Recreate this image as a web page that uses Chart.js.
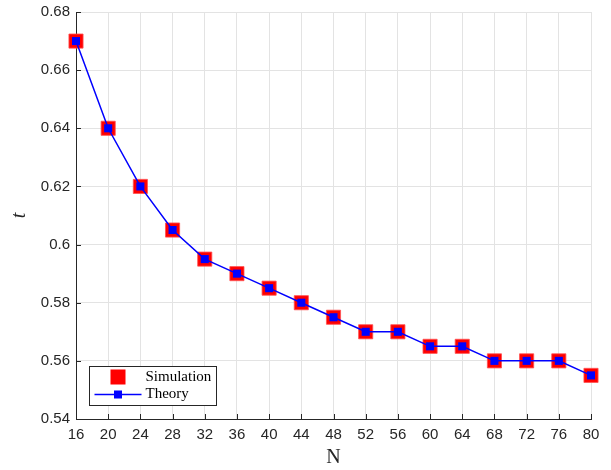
<!doctype html>
<html lang="en">
<head>
    <meta charset="utf-8">
    <title>t vs N</title>
    <style>
        html, body { margin: 0; padding: 0; background: #fff; }
        #wrap { width: 611px; height: 470px; }
    </style>
</head>
<body>
    <div id="wrap">
        <canvas id="myChart" width="611" height="470"></canvas>
    </div>

    <script src="https://cdn.jsdelivr.net/npm/chart.js@4.4.0/dist/chart.umd.min.js"></script>
    <script>
        // data
        let nValues = [16, 20, 24, 28, 32, 36, 40, 44, 48, 52, 56, 60, 64, 68, 72, 76, 80];
        let simulation = [0.67, 0.64, 0.62, 0.605, 0.595, 0.59, 0.585, 0.58, 0.575, 0.57, 0.57, 0.565, 0.565, 0.56, 0.56, 0.56, 0.555];
        let theory = [0.67, 0.64, 0.62, 0.605, 0.595, 0.59, 0.585, 0.58, 0.575, 0.57, 0.57, 0.565, 0.565, 0.56, 0.56, 0.56, 0.555];
        let xTicks = [16, 20, 24, 28, 32, 36, 40, 44, 48, 52, 56, 60, 64, 68, 72, 76, 80];
        let yTicks = [0.54, 0.56, 0.58, 0.6, 0.62, 0.64, 0.66, 0.68];
        let seriesNames = ['Simulation', 'Theory'];

        const axisColor = '#262626';
        const gridColor = '#e3e3e3';

        // small inward ticks on the left and bottom axes (matlab style)
        const innerTicks = {
            id: 'innerTicks',
            afterDatasetsDraw(chart) {
                let ctx = chart.ctx;
                let area = chart.chartArea;
                let xs = chart.scales.x, ys = chart.scales.y;
                ctx.save();
                ctx.strokeStyle = axisColor;
                ctx.lineWidth = 1;
                ctx.beginPath();
                xTicks.forEach(v => {
                    let px = Math.round(xs.getPixelForValue(v)) + 0.5;
                    ctx.moveTo(px, area.bottom);
                    ctx.lineTo(px, area.bottom - 5);
                });
                yTicks.forEach(v => {
                    let py = Math.round(ys.getPixelForValue(v)) + 0.5;
                    ctx.moveTo(area.left, py);
                    ctx.lineTo(area.left + 5, py);
                });
                ctx.stroke();
                ctx.restore();
            }
        };

        // boxed legend in the lower-left corner of the plot
        const boxLegend = {
            id: 'boxLegend',
            afterDraw(chart) {
                let ctx = chart.ctx;
                let area = chart.chartArea;
                let x0 = area.left + 13.5, y0 = area.bottom - 52.5;
                let w = 127, h = 39;
                ctx.save();
                ctx.fillStyle = '#fff';
                ctx.fillRect(x0, y0, w, h);
                ctx.strokeStyle = axisColor;
                ctx.lineWidth = 1;
                ctx.strokeRect(x0, y0, w, h);

                // simulation entry
                ctx.fillStyle = '#ff0000';
                ctx.fillRect(x0 + 21, y0 + 3, 15, 15);
                // theory entry
                ctx.strokeStyle = '#0000ff';
                ctx.lineWidth = 1.5;
                ctx.beginPath();
                ctx.moveTo(x0 + 5, y0 + 28);
                ctx.lineTo(x0 + 52, y0 + 28);
                ctx.stroke();
                ctx.fillStyle = '#0000ff';
                ctx.fillRect(x0 + 24.5, y0 + 24, 8, 8);

                ctx.fillStyle = '#000';
                ctx.font = '15px "Liberation Serif", "DejaVu Serif", serif';
                ctx.textBaseline = 'middle';
                ctx.fillText(seriesNames[0], x0 + 56, y0 + 11);
                ctx.fillText(seriesNames[1], x0 + 56, y0 + 28);
                ctx.restore();
            }
        };

        let ctx = document.getElementById('myChart').getContext('2d');
        let myChart = new Chart(ctx, {
            type: 'line',
            data: {
                datasets: [
                    {
                        label: seriesNames[0],
                        data: nValues.map((n, i) => ({ x: n, y: simulation[i] })),
                        showLine: false,
                        pointStyle: 'rect',
                        pointRadius: 10,
                        backgroundColor: '#ff0000',
                        borderColor: 'rgba(255,80,80,0.8)',
                        borderWidth: 1,
                        clip: false,
                        order: 2
                    },
                    {
                        label: seriesNames[1],
                        data: nValues.map((n, i) => ({ x: n, y: theory[i] })),
                        borderColor: '#0000ff',
                        borderWidth: 1.5,
                        pointStyle: 'rect',
                        pointRadius: 5.7,
                        pointBackgroundColor: '#0000ff',
                        pointBorderWidth: 0,
                        tension: 0,
                        clip: false,
                        order: 1
                    }
                ]
            },
            options: {
                responsive: false,
                animation: false,
                layout: { padding: { left: 0, right: 20, top: 12, bottom: 0 } },
                plugins: {
                    legend: { display: false },
                    tooltip: { enabled: false }
                },
                scales: {
                    x: {
                        type: 'linear',
                        min: 16,
                        max: 80,
                        afterBuildTicks: axis => { axis.ticks = xTicks.map(v => ({ value: v })); },
                        afterFit: axis => { axis.height = 51; axis.paddingRight = 0; },
                        grid: { color: gridColor, drawTicks: false },
                        border: { color: axisColor, width: 1 },
                        ticks: {
                            color: axisColor,
                            padding: 7,
                            maxRotation: 0,
                            autoSkip: false,
                            font: { family: '"Liberation Sans", Arial, sans-serif', size: 15 }
                        },
                        title: {
                            display: true,
                            text: 'N',
                            color: axisColor,
                            padding: { top: 2, bottom: 0 },
                            font: { family: '"Liberation Serif", "DejaVu Serif", serif', size: 20 }
                        }
                    },
                    y: {
                        min: 0.54,
                        max: 0.68,
                        afterBuildTicks: axis => { axis.ticks = yTicks.map(v => ({ value: v })); },
                        afterFit: axis => { axis.width = 76; axis.paddingTop = 0; axis.paddingBottom = 0; },
                        grid: { color: gridColor, drawTicks: false },
                        border: { color: axisColor, width: 1 },
                        ticks: {
                            color: axisColor,
                            padding: 6,
                            autoSkip: false,
                            font: { family: '"Liberation Sans", Arial, sans-serif', size: 15 },
                            callback: v => String(Math.round(v * 100) / 100)
                        },
                        title: {
                            display: true,
                            text: 't',
                            color: axisColor,
                            padding: { top: 8, bottom: 10 },
                            font: { family: '"Liberation Serif", "DejaVu Serif", serif', size: 20, style: 'italic' }
                        }
                    }
                }
            },
            plugins: [innerTicks, boxLegend]
        });
    </script>
</body>
</html>
